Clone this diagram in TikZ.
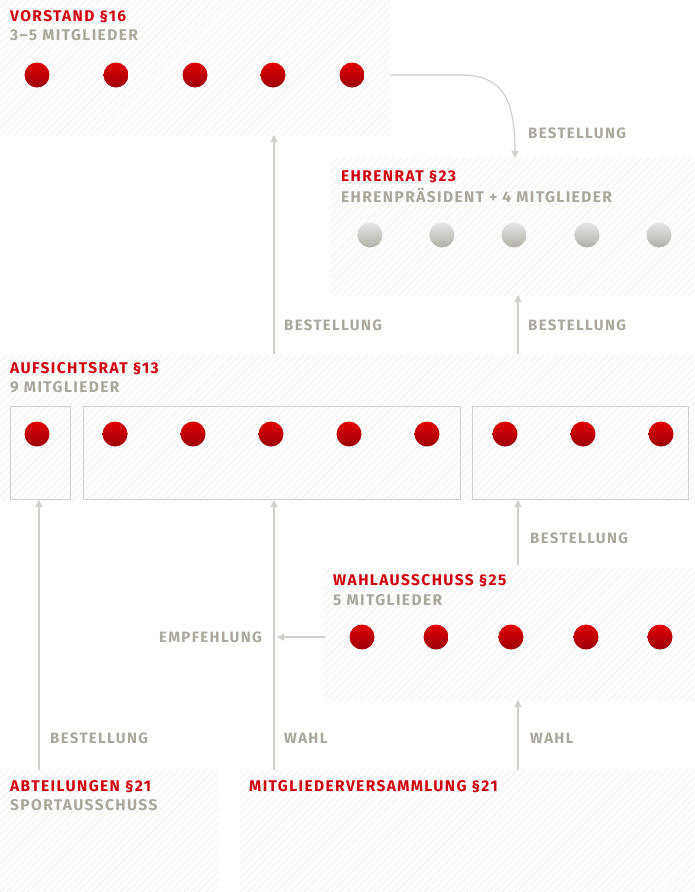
\documentclass[tikz,border=0pt]{standalone}
\usepackage{fontspec}
\setmainfont{Fira Sans}
\usetikzlibrary{patterns,patterns.meta,arrows.meta}
\definecolor{rd}{HTML}{D0000F}
\definecolor{gr}{HTML}{ABA79D}
\definecolor{ln}{HTML}{D2D0CB}
\definecolor{hatch}{HTML}{EAE8E4}
\newfontfamily\lab[LetterSpace=9]{Fira Sans Bold}
\tikzset{
 panel/.style={pattern={Lines[angle=45,distance=5pt,line width=0.5pt]},pattern color=hatch,draw=none},
 sub/.style={draw=ln,line width=0.8pt},
 ttl/.style={anchor=west,text=rd,font=\lab\fontsize{15.5}{15.5}\selectfont,inner sep=0},
 stl/.style={anchor=west,text=gr,font=\lab\fontsize{15.5}{15.5}\selectfont,inner sep=0},
 lbl/.style={anchor=west,text=gr,font=\lab\fontsize{15}{15}\selectfont,inner sep=0},
 rdot/.style={circle,minimum size=25pt,inner sep=0,shade,top color=red!88!black,bottom color=rd!75!black,draw=none},
 gdot/.style={circle,minimum size=25pt,inner sep=0,shade,top color=gray!20,bottom color=gr!90,draw=none},
 arr/.style={draw=ln,line width=1.2pt,-{Triangle[length=7pt,width=7pt]}}
}
\begin{document}
\begin{tikzpicture}[x=1pt,y=-1pt]
\useasboundingbox (0,0) rectangle (695,892);
% panels
\path[panel] (0,0) rectangle (390,135);
\path[panel] (330,158) rectangle (695,295);
\path[panel] (0,355) rectangle (695,500);
\path[panel] (323,568) rectangle (695,700);
\path[panel] (0,770) rectangle (218,892);
\path[panel] (240,770) rectangle (695,892);
\node[sub,minimum width=60pt,minimum height=93pt] (b1) at (40,452.5) {};
\node[sub,minimum width=377pt,minimum height=93pt] (b2) at (271.5,452.5) {};
\node[sub,minimum width=216pt,minimum height=93pt] (b3) at (580,452.5) {};
% titles
\node[ttl] (tv) at (10,17) {VORSTAND §16};
\node[stl] (sv) at (10,35) {3–5 MITGLIEDER};
\node[ttl] (te) at (341,177) {EHRENRAT §23};
\node[stl] (se) at (341,195) {EHRENPRÄSIDENT + 4 MITGLIEDER};
\node[ttl] (ta) at (10,369) {AUFSICHTSRAT §13};
\node[stl] (sa) at (10,387) {9 MITGLIEDER};
\node[ttl] (tw) at (333,581) {WAHLAUSSCHUSS §25};
\node[stl] (sw) at (333,600) {5 MITGLIEDER};
\node[ttl] (tab) at (10,787) {ABTEILUNGEN §21};
\node[stl] (sab) at (10,805) {SPORTAUSSCHUSS};
\node[ttl] (tm) at (249,787) {MITGLIEDERVERSAMMLUNG §21};
% dots
\foreach \x [count=\i] in {37,116,195,273,352} \node[rdot] (v\i) at (\x,75) {};
\foreach \x [count=\i] in {370,442,514,587,659} \node[gdot] (e\i) at (\x,235) {};
\foreach \x [count=\i] in {37,115,193,271,349,427,505,583,661} \node[rdot] (a\i) at (\x,434) {};
\foreach \x [count=\i] in {362,436,511,586,660} \node[rdot] (w\i) at (\x,637) {};
% connector endpoints
\coordinate (c1) at (390,75); \coordinate (c2) at (515,158);
\coordinate (avs) at (274,354); \coordinate (avt) at (274,135);
\coordinate (aes) at (518,354); \coordinate (aet) at (518,295);
\coordinate (wa) at (518,565); \coordinate (wat) at (518,500);
\coordinate (we) at (325,637); \coordinate (wet) at (277,637);
\coordinate (ab) at (39,770); \coordinate (abt) at (39,500);
\coordinate (mv) at (274,770); \coordinate (mvt) at (274,500);
\coordinate (mw) at (518,770); \coordinate (mwt) at (518,700);
\draw[arr] (c1) -- (460,75) .. controls (500,75) and (515,95) .. (c2);
\draw[arr] (avs) -- (avt);
\draw[arr] (aes) -- (aet);
\draw[arr] (wa) -- (wat);
\draw[arr] (we) -- (wet);
\draw[arr] (ab) -- (abt);
\draw[arr] (mv) -- (mvt);
\draw[arr] (mw) -- (mwt);
% labels
\node[lbl] (l1) at (528,133) {BESTELLUNG};
\node[lbl] (l2) at (284,325) {BESTELLUNG};
\node[lbl] (l3) at (528,325) {BESTELLUNG};
\node[lbl] (l4) at (530,538) {BESTELLUNG};
\node[lbl,anchor=east] (l5) at (262,637) {EMPFEHLUNG};
\node[lbl] (l6) at (50,738) {BESTELLUNG};
\node[lbl] (l7) at (284,738) {WAHL};
\node[lbl] (l8) at (530,738) {WAHL};
\end{tikzpicture}
\end{document}
